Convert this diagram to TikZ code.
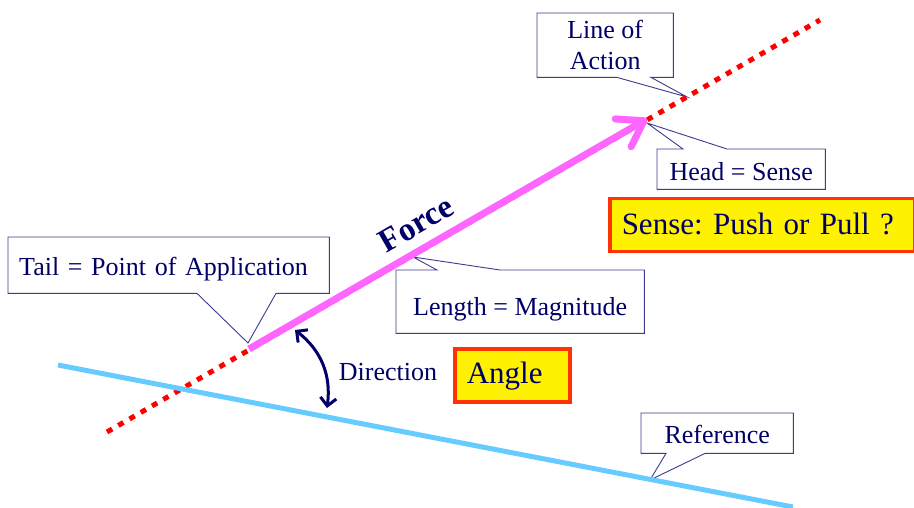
\documentclass[tikz,border=0pt]{standalone}
\usepackage{fontspec}
\setmainfont{Liberation Serif}
\usetikzlibrary{arrows.meta,backgrounds}
\definecolor{navy}{RGB}{0,0,102}
\definecolor{boxline}{RGB}{60,60,140}
\definecolor{pinkf}{RGB}{255,102,255}
\definecolor{skyb}{RGB}{102,204,255}
\definecolor{orangeb}{RGB}{255,51,0}
\frenchspacing
\begin{document}
\frenchspacing
\begin{tikzpicture}[x=1pt,y=-1pt,
  lbl/.style={text=navy,font=\fontsize{26}{31}\selectfont, inner sep=0pt},
  callbox/.style={lbl, anchor=north west},
  callout/.style={draw=boxline, line width=0.9pt, fill=white, line join=miter},
  hilite/.style={draw=orangeb, line width=3.5pt, fill=yellow, text=navy, font=\fontsize{31}{36}\selectfont, anchor=north west, align=left, inner xsep=12pt, inner ysep=0pt}
]
\useasboundingbox (0,0) rectangle (914,508);
% main lines
\coordinate (lstart) at (107,432);
\coordinate (lend) at (820,20);
\coordinate (refa) at (58,365);
\coordinate (refb) at (793,507);
\coordinate (tailpt) at (249,349);
\coordinate (headpt) at (647,119);
\draw[red, line width=5pt, dash pattern=on 6pt off 7pt] (lstart) -- (lend);
\draw[skyb, line width=5pt] (refa) -- (refb);
\draw[pinkf, line width=7pt, -{Straight Barb[length=24pt,width=32pt,round]}] (tailpt) -- (headpt);
% callout boxes
\node[callbox, minimum width=136pt, minimum height=64pt, align=center] (loa) at (537,13) {Line of\\Action};
\node[callbox, minimum width=168pt, text height=31pt, text depth=9pt] (head) at (657,149) {Head = Sense};
\node[callbox, inner xsep=11pt, text width=299pt, align=left, text height=38pt, text depth=18pt] (tail) at (8,237) {Tail = Point of Application};
\node[callbox, minimum width=248pt, text height=45pt, text depth=18pt] (len) at (396,270) {Length = Magnitude};
\node[callbox, minimum width=152pt, text height=30pt, text depth=10pt] (ref) at (641,413) {Reference};
\coordinate (loatip) at (687,97);
\coordinate (headtip) at (647,123);
\coordinate (tailtip) at (248,343);
\coordinate (lentip) at (413,257);
\coordinate (reftip) at (650,480);
\begin{scope}[on background layer]
\path[callout] (loa.north west) -- (loa.north east) -- (loa.south east) -- ([xshift=114pt]loa.south west) -- (loatip) -- ([xshift=80pt]loa.south west) -- (loa.south west) -- cycle;
\path[callout] (head.north west) -- ([xshift=26pt]head.north west) -- (headtip) -- ([xshift=70pt]head.north west) -- (head.north east) -- (head.south east) -- (head.south west) -- cycle;
\path[callout] (tail.north west) -- (tail.north east) -- (tail.south east) -- ([xshift=268pt]tail.south west) -- (tailtip) -- ([xshift=189pt]tail.south west) -- (tail.south west) -- cycle;
\path[callout] (len.north west) -- ([xshift=41pt]len.north west) -- (lentip) -- ([xshift=104pt]len.north west) -- (len.north east) -- (len.south east) -- (len.south west) -- cycle;
\path[callout] (ref.north west) -- (ref.north east) -- (ref.south east) -- ([xshift=64pt]ref.south west) -- (reftip) -- ([xshift=25pt]ref.south west) -- (ref.south west) -- cycle;
\end{scope}
% labels
\node[text=navy, font=\bfseries\fontsize{33}{38}\selectfont, rotate=30, inner sep=0pt] (force) at (416,224) {Force};
\node[lbl] (dir) at (388,372) {Direction};
\node[hilite, text height=35pt, text depth=18pt, text width=91pt] (ang) at (453,347) {Angle};
\node[hilite, text height=36pt, text depth=17pt, text width=281pt] (sense) at (608,197) {Sense: Push or Pull ?};
% direction arc
\coordinate (dirA) at (295,330);
\coordinate (dirB) at (327,408);
\draw[navy, line width=3pt, {Straight Barb[length=8pt,width=16pt]}-{Straight Barb[length=8pt,width=16pt]}] (dirA) to[bend left=30] (dirB);
\end{tikzpicture}
\end{document}
